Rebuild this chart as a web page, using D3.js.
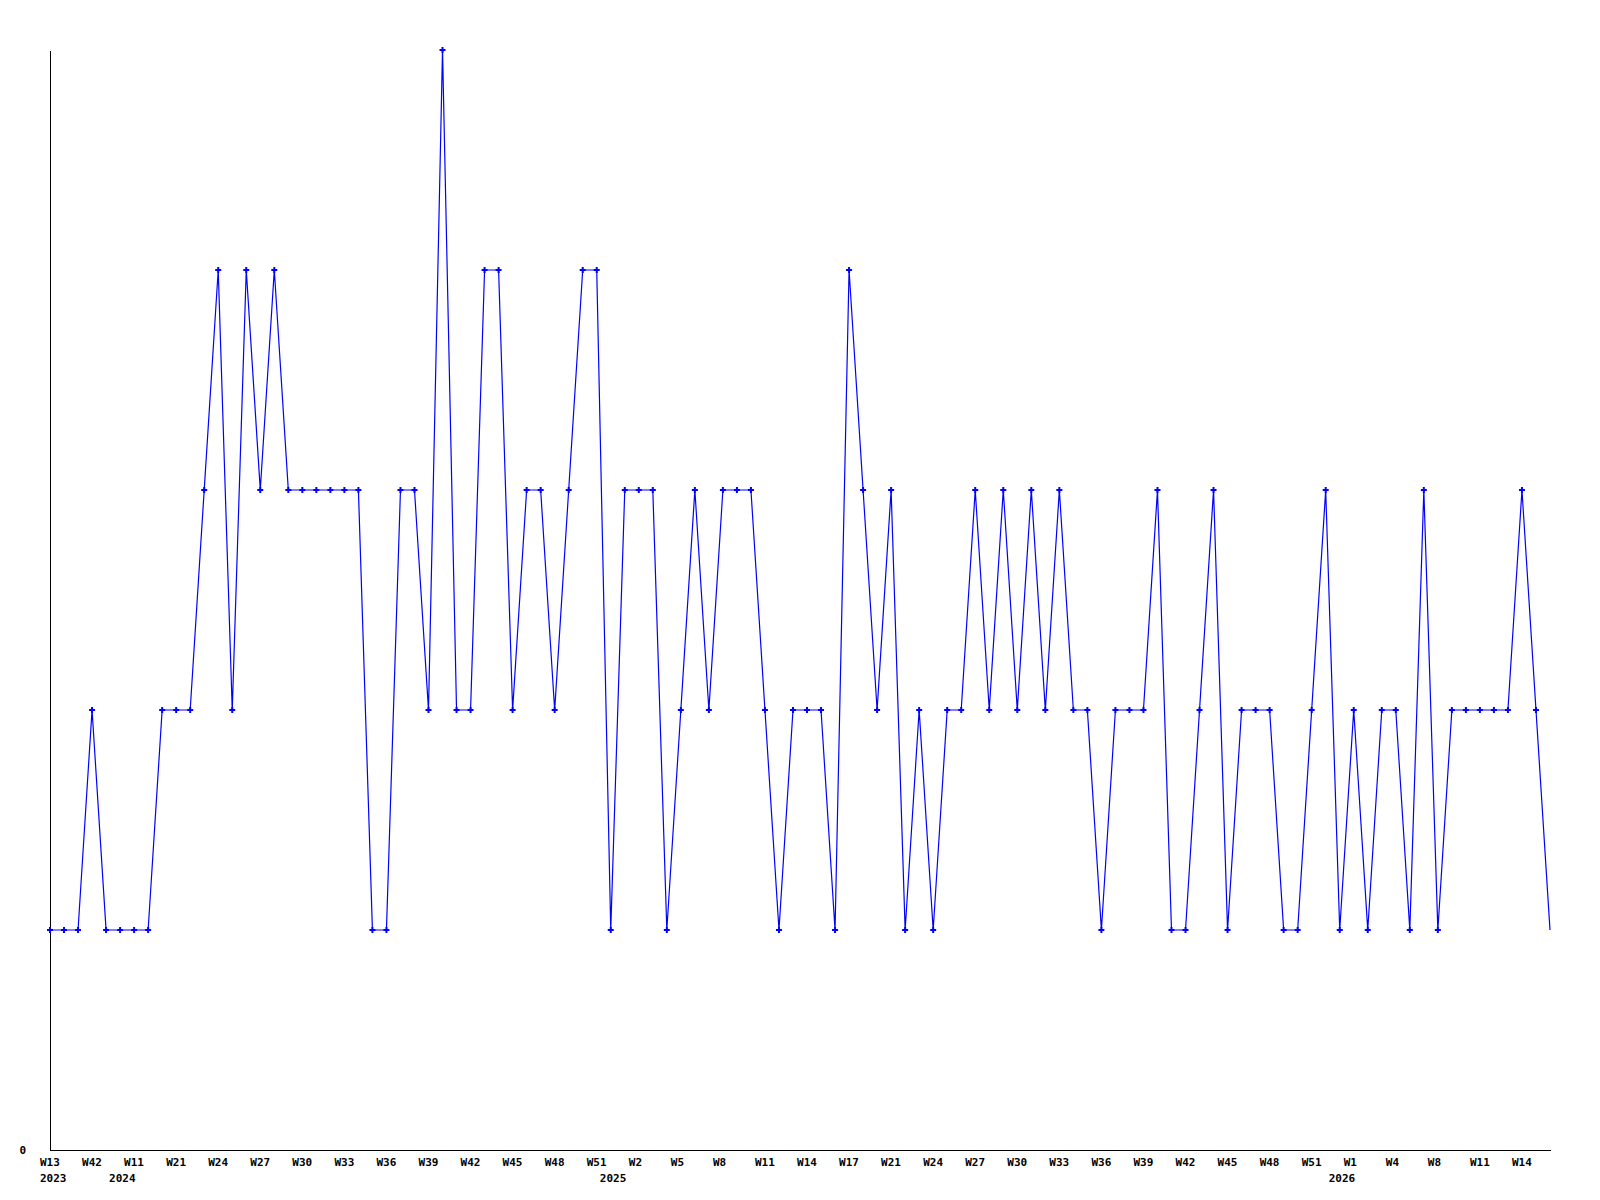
<!DOCTYPE html>
<html>
<head>
<meta charset="utf-8">
<script src="https://cdn.jsdelivr.net/npm/d3@7"></script>
<style>
  html, body { margin: 0; padding: 0; background: #fff; }
  text { font-family: "DejaVu Sans Mono", "Liberation Mono", monospace; font-weight: bold; font-size: 11px; fill: #000; }
</style>
</head>
<body>
<div id="chart"></div>
<script>
// weekly counts, one per column
const values = [
  1, 1, 1, 2, 1, 1, 1, 1, 2, 2, 2, 3, 4, 2, 4, 3, 4, 3, 3, 3,
  3, 3, 3, 1, 1, 3, 3, 2, 5, 2, 2, 4, 4, 2, 3, 3, 2, 3, 4, 4,
  1, 3, 3, 3, 1, 2, 3, 2, 3, 3, 3, 2, 1, 2, 2, 2, 1, 4, 3, 2,
  3, 1, 2, 1, 2, 2, 3, 2, 3, 2, 3, 2, 3, 2, 2, 1, 2, 2, 2, 3,
  1, 1, 2, 3, 1, 2, 2, 2, 1, 1, 2, 3, 1, 2, 1, 2, 2, 1, 3, 1,
  2, 2, 2, 2, 2, 3, 2, 1
];

// a label on every third column
const weekLabels = [
  "W13", "W42", "W11", "W21", "W24", "W27", "W30", "W33", "W36", "W39",
  "W42", "W45", "W48", "W51", "W2", "W5", "W8", "W11", "W14", "W17",
  "W21", "W24", "W27", "W30", "W33", "W36", "W39", "W42", "W45", "W48",
  "W51", "W1", "W4", "W8", "W11", "W14"
];
const labelStep = 3;

const yearLabels = ["2023", "2024", "2025", "2026"];
const yearIndex = [0, 6, 41, 93];

const yTicks = [0];

let width = 1600;
let height = 1200;
let plotLeft = 50;
let plotRight = 1550;
let plotTop = 50;
let plotBottom = 1150;

let svg = d3.select("#chart").append("svg")
  .attr("width", width)
  .attr("height", height);

let x = d3.scaleLinear()
  .domain([0, values.length - 1])
  .range([plotLeft, plotRight]);

let y = d3.scaleLinear()
  .domain([0, d3.max(values)])
  .range([plotBottom, plotTop]);

// x axis
let xAxis = d3.axisBottom(x)
  .tickValues(weekLabels.map(function (d, i) { return i * labelStep; }))
  .tickFormat(function (d) { return weekLabels[d / labelStep]; })
  .tickSize(0)
  .tickPadding(8);

let gx = svg.append("g")
  .attr("transform", `translate(0, ${plotBottom})`)
  .call(xAxis);
gx.select(".domain").attr("stroke", "#000").attr("shape-rendering", "crispEdges");
gx.selectAll("text")
  .attr("text-anchor", "start")
  .attr("x", -10.5)
  .attr("font-family", null)
  .attr("font-size", null);

// years under the week labels
svg.append("g").selectAll("text")
  .data(yearLabels)
  .enter()
  .append("text")
  .attr("x", function (d, i) { return Math.max(x(yearIndex[i]) - 25, 40); })
  .attr("y", 1181.5)
  .text(function (d) { return d; });

// y axis
let yAxis = d3.axisLeft(y)
  .tickValues(yTicks)
  .tickFormat(d3.format("d"))
  .tickSize(0)
  .tickPadding(24);

let gy = svg.append("g")
  .attr("transform", `translate(${plotLeft}, 0)`)
  .call(yAxis);
gy.select(".domain").attr("stroke", "#000").attr("shape-rendering", "crispEdges");
gy.selectAll("text")
  .attr("font-family", null)
  .attr("font-size", null);

// line
let line = d3.line()
  .x(function (d, i) { return x(i); })
  .y(function (d) { return y(d); });

svg.append("path")
  .datum(values)
  .attr("fill", "none")
  .attr("stroke", "#0000ff")
  .attr("stroke-width", 1.2)
  .attr("d", line);

// markers (the last, still open week has none)
let marker = d3.symbol().type(d3.symbolCross).size(20);

svg.append("g").selectAll("path")
  .data(values.slice(0, -1))
  .enter()
  .append("path")
  .attr("d", marker)
  .attr("fill", "#0000ff")
  .attr("transform", function (d, i) { return `translate(${x(i)}, ${y(d)})`; });
</script>
</body>
</html>
